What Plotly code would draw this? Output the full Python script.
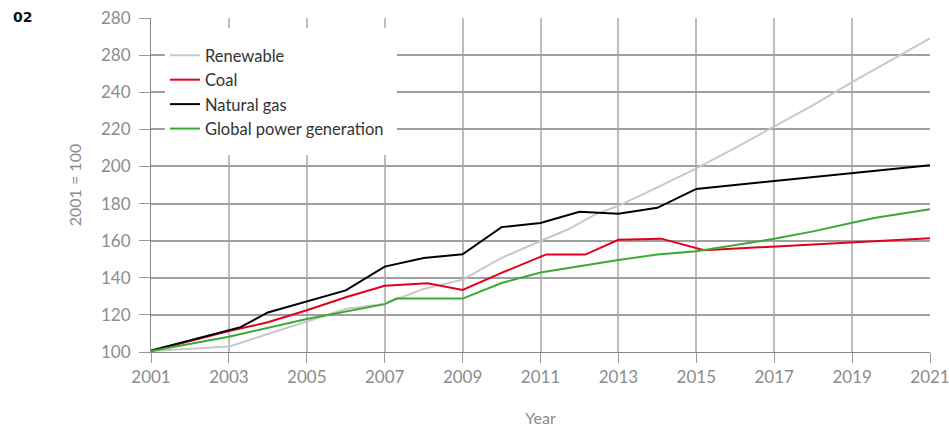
import plotly.graph_objects as go

# index values, 2001 = 100
renew_years = [2001, 2003, 2004, 2005, 2006, 2007, 2008, 2009, 2010, 2011, 2011.7, 2012.4,
               2013, 2014, 2015, 2016, 2017, 2018, 2019, 2020, 2021]
renew_vals = [100.5, 102.9, 109.7, 116.3, 123.2, 126, 134, 139, 150.7, 159.8, 166, 174,
              178.8, 188.7, 199, 210, 221.4, 233, 245.4, 257.3, 269]

coal_years = [2001, 2003, 2004, 2005, 2006, 2007, 2008.1, 2009, 2010, 2011.15, 2012.15,
              2013, 2014.1, 2015.2, 2021]
coal_vals = [100.5, 111.3, 116, 122.5, 129.5, 135.7, 137.1, 133.4, 142.6, 152.6, 152.5,
             160.5, 161.1, 154.8, 161.3]

gas_years = [2001, 2003, 2003.3, 2004, 2005, 2006, 2007, 2008, 2009, 2010, 2011, 2012,
             2013, 2014, 2015, 2021]
gas_vals = [100.8, 112, 113.4, 121.3, 127.2, 133.2, 146, 150.6, 152.7, 167.3, 169.5, 175.6,
            174.5, 177.7, 187.9, 200.6]

glob_years = [2001, 2003, 2005, 2007, 2007.3, 2009, 2010, 2011, 2012, 2013, 2014, 2015,
              2017, 2018, 2019, 2019.6, 2021]
glob_vals = [100.5, 108.2, 117.8, 125.8, 128.8, 128.8, 137.2, 142.8, 146.2, 149.6, 152.5,
             154.3, 161, 165, 169.7, 172.3, 176.9]

series = [
    ("Renewable", renew_years, renew_vals, "#c8c8c8"),
    ("Coal", coal_years, coal_vals, "#e2001a"),
    ("Natural gas", gas_years, gas_vals, "#000000"),
    ("Global power generation", glob_years, glob_vals, "#3aaa35"),
]

y_ticks = [100, 120, 140, 160, 180, 200, 220, 240, 260, 280]
y_labels = ["100", "120", "140", "160", "180", "200", "220", "240", "280", "280"]
x_ticks = list(range(2001, 2022, 2))

fig = go.Figure()
for name, xs, ys, color in series:
    fig.add_trace(go.Scatter(x=xs, y=ys, name=name, mode="lines",
                             line=dict(color=color, width=2)))

# page body margin is removed below, so figure pixels = screen pixels
W, H = 949, 427
L, R, T, B = 151, 19, 18, 75
pw, ph = W - L - R, H - T - B


def px(x):
    # screen pixel -> paper x
    return (x - L) / pw


def py(y):
    # screen pixel -> paper y
    return (H - B - y) / ph


fig.update_layout(
    width=W, height=H,
    margin=dict(l=L, r=R, t=T, b=B),
    plot_bgcolor="white", paper_bgcolor="white",
    font=dict(family="Lato", size=17, color="#8c8c8c"),
    legend=dict(x=px(165), y=py(38), xanchor="left", yanchor="top",
                bgcolor="rgba(0,0,0,0)", font=dict(size=16.5, color="#333333"),
                itemwidth=30, tracegroupgap=0),
    # white panel behind the legend hides the grid there
    shapes=[dict(type="rect", xref="paper", yref="paper", layer="above",
                 x0=px(165), x1=px(397), y0=py(155), y1=py(28),
                 fillcolor="white", line=dict(width=0))],
    annotations=[dict(text="<b>02</b>", x=px(11), y=py(17), xref="paper", yref="paper",
                      showarrow=False, xanchor="left", yanchor="middle",
                      font=dict(family="DejaVu Sans", size=14, color="#111111"))],
)

fig.update_xaxes(
    range=[2001, 2021], tickvals=x_ticks, ticks="outside", ticklen=10,
    tickcolor="#999999", showgrid=True, gridcolor="#bdbdbd", gridwidth=1.5,
    showline=True, linecolor="#888888", zeroline=False, automargin=False,
    ticklabeloverflow="allow",
    title=dict(text="Year", standoff=34, font=dict(size=16, color="#8c8c8c")),
)
fig.update_yaxes(
    range=[100, 280], tickvals=y_ticks, ticktext=y_labels, ticks="outside",
    ticklen=11, tickcolor="#999999", showgrid=True, gridcolor="#a0a0a0",
    gridwidth=1.5, showline=True, linecolor="#888888", zeroline=False,
    automargin=False, ticklabelstandoff=5, ticklabeloverflow="allow",
    title=dict(text="2001 = 100", standoff=15, font=dict(size=16, color="#8c8c8c")),
)

fig.write_html("out.html", config={"displayModeBar": False},
               post_script="document.body.style.margin='0';"
               "document.body.style.overflow='hidden';")
